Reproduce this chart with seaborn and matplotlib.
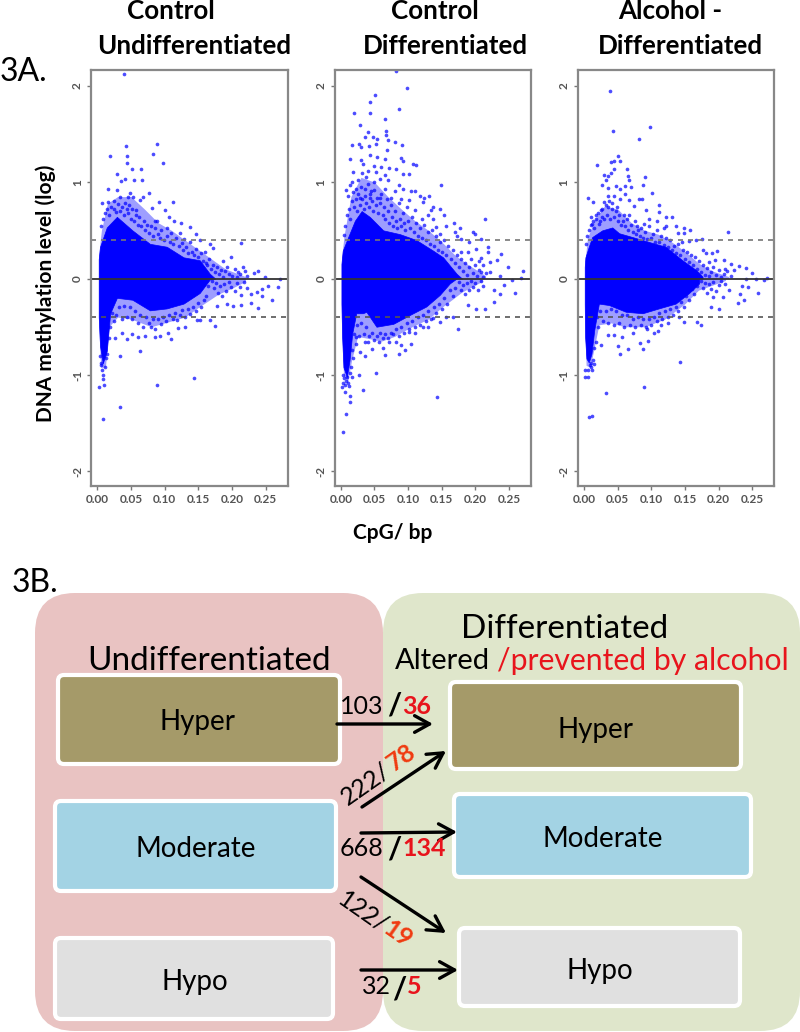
import pandas as pd
import seaborn as sns
import matplotlib
matplotlib.use('Agg')
import matplotlib.pyplot as plt
from matplotlib.patches import FancyBboxPatch

sns.set_theme(style='white')
plt.rcParams['font.family'] = ['Lato', 'DejaVu Sans']

# values: (CpG/bp, log methylation)
undiff_pts = [(.040,2.12),(.043,1.37),(.088,1.40),(.019,1.27),(.044,1.27),(.082,1.29),(.044,1.20),(.098,1.20),
    (.051,1.14),(.065,1.14),(.029,1.08),(.041,1.03),(.035,1.01),(.055,1.02),(.067,1.02),(.016,.93),(.029,.92),
    (.049,.89),(.046,.85),(.053,.85),(.068,.85),(.077,.89),(.063,.81),(.034,.85),(.007,.78),(.016,.79),(.091,.79),
    (.112,.79),(.081,.73),(.101,.71),(.024,.72),(.044,.72),(.058,.71),(.088,.60),(.107,.64),(.114,.60),(.124,.58),
    (.138,.53),(.086,.52),(.103,.52),(.123,.47),(.147,.46),(.128,.41),(.152,.40),(.167,.36),(.214,.37),(.172,.32),
    (.199,.22),(.187,.18),(.162,.16),(.219,.08),(.239,.08),(.249,.02),(.232,.06),(.209,.07),(.271,-.01),(.269,-.09),
    (.259,-.22),(.254,-.08),(.244,-.11),(.244,-.18),(.237,-.14),(.228,-.16),(.214,-.17),(.228,-.25),(.238,-.31),
    (.214,-.275),(.201,-.285),(.192,-.26),(.177,-.29),(.174,-.495),(.167,-.43),(.153,-.43),(.148,-.43),(.130,-.50),
    (.120,-.51),(.118,-.43),(.110,-.63),(.105,-.56),(.093,-.60),(.085,-.61),(.080,-.50),(.071,-.60),(.061,-.61),
    (.052,-.58),(.044,-.63),(.064,-.75),(.026,-.62),(.034,-.80),(.036,-.57),(.143,-1.03),(.089,-1.10),(.034,-1.33),
    (.008,-1.46),(.002,-1.12),(.010,-1.10),(.009,-1.04),(.009,-1.0),(.006,-.90)]
undiff_fringe = [(.006,.55),(.009,.62),(.012,.68),(.015,.72),(.018,.66),(.021,.74),(.024,.80),(.027,.69),(.031,.77),
    (.033,.70),(.036,.74),(.039,.66),(.041,.78),(.045,.68),(.047,.76),(.050,.62),(.052,.72),(.054,.60),(.057,.66),
    (.060,.56),(.062,.64),(.065,.55),(.069,.60),(.071,.50),(.074,.56),(.076,.47),(.079,.54),(.083,.44),(.085,.60),
    (.090,.46),(.093,.42),(.095,.50),(.099,.40),(.104,.44),(.108,.38),(.110,.47),(.113,.36),(.117,.42),(.121,.34),
    (.125,.37),(.127,.30),(.132,.33),(.135,.26),(.138,.38),(.141,.28),(.144,.24),(.147,.31),(.150,.22),(.154,.26),
    (.157,.18),(.160,.28),(.163,.14),(.166,.20),(.169,.10),(.172,.14),(.175,.07),(.178,.12),(.181,.05),(.184,.09),
    (.187,.02),(.190,.08),(.193,.12),(.196,.05),(.200,.03),(.204,.10),(.207,.02),(.212,.05),(.216,.12),(.222,.03),
    (.170,-.03),(.173,-.10),(.176,-.05),(.179,-.15),(.182,-.08),(.185,-.18),(.188,-.06),(.191,-.13),(.195,-.04),
    (.198,-.09),(.204,-.13),(.208,-.05),(.212,-.09),(.218,-.04),(.222,-.10),(.165,-.08),(.162,-.18),(.158,-.22),
    (.154,-.30),(.150,-.25),(.146,-.34),(.142,-.30),(.138,-.37),(.134,-.32),(.130,-.40),(.126,-.33),(.122,-.38),
    (.116,-.36),(.112,-.42),(.107,-.38),(.102,-.44),(.098,-.40),(.094,-.47),(.090,-.42),(.086,-.52),(.082,-.42),
    (.076,-.46),(.072,-.40),(.068,-.50),(.064,-.38),(.060,-.46),(.056,-.34),(.052,-.42),(.048,-.30),(.044,-.40),
    (.040,-.28),(.036,-.42),(.032,-.30),(.028,-.38),(.024,-.44),(.022,-.36),(.019,-.50),(.017,-.62),(.015,-.78),
    (.013,-.82),(.012,-.92),(.007,-.95),(.005,-.88),(.004,-.80)]
undiff_x = [.002,.004,.014,.029,.052,.078,.103,.128,.152,.167,.175]
undiff_top = [.20,.33,.53,.64,.50,.36,.33,.22,.19,.05,0]
undiff_low_x = [.002,.004,.008,.014,.019,.029,.052,.078,.103,.128,.152,.167,.175]
undiff_low = [-.40,-.70,-.88,-.75,-.36,-.20,-.22,-.33,-.31,-.26,-.15,-.01,0]
undiff_haze_x = [.002,.006,.015,.03,.05,.07,.09,.11,.13,.15,.17,.19,.22]
undiff_haze_top = [.25,.50,.78,.85,.85,.72,.58,.50,.40,.30,.20,.10,.02]
undiff_haze_low_x = [.002,.005,.012,.017,.03,.05,.08,.10,.13,.15,.18,.20,.22]
undiff_haze_low = [-.5,-.92,-.92,-.5,-.40,-.42,-.50,-.46,-.40,-.30,-.16,-.10,-.03]

ctrl_pts = [(.082,2.155),(.098,1.98),(.051,1.90),(.044,1.83),(.019,1.72),(.044,1.72),(.087,1.76),(.065,1.65),
    (.029,1.59),(.041,1.52),(.067,1.53),(.067,1.49),(.036,1.47),(.048,1.47),(.054,1.45),(.070,1.44),(.080,1.42),
    (.017,1.39),(.027,1.40),(.030,1.36),(.042,1.37),(.091,1.38),(.053,1.40),(.068,1.33),(.014,1.24),(.030,1.23),
    (.043,1.28),(.054,1.26),(.065,1.24),(.090,1.25),(.093,1.22),(.107,1.19),(.112,1.18),(.033,1.19),(.049,1.17),
    (.060,1.16),(.071,1.15),(.082,1.14),(.018,1.11),(.031,1.09),(.041,1.12),(.052,1.10),(.065,1.07),(.093,1.08),
    (.102,1.08),(.016,1.00),(.026,1.02),(.038,1.05),(.049,1.0),(.058,1.03),(.070,1.02),(.087,.97),(.149,.97),
    (.008,.92),(.013,.97),(.023,.93),(.036,.93),(.045,.91),(.065,.93),(.080,.91),(.092,.93),(.105,.91),(.110,.91),
    (.011,.86),(.028,.84),(.043,.84),(.058,.84),(.075,.84),(.090,.83),(.117,.86),(.123,.84),(.131,.86),(.122,.79),
    (.102,.81),(.137,.74),(.147,.72),(.134,.71),(.154,.66),(.110,.71),(.120,.62),(.130,.66),(.214,.62),(.137,.62),
    (.157,.55),(.168,.58),(.142,.53),(.177,.52),(.170,.48),(.196,.48),(.200,.46),(.172,.44),(.147,.46),(.179,.41),
    (.191,.38),(.209,.41),(.218,.33),(.201,.31),(.219,.28),(.179,.28),(.189,.28),(.209,.21),(.238,.25),(.232,.19),
    (.221,.17),(.248,.12),(.271,.08),(.211,.14),(.221,.07),(.206,.09),(.236,.03),(.268,.01),(.254,-.02),(.259,-.15),
    (.243,-.07),(.236,-.16),(.228,-.12),(.228,-.24),(.214,-.32),(.201,-.32),(.189,-.275),(.174,-.52),(.167,-.40),
    (.157,-.40),(.148,-.45),(.137,-.41),(.130,-.50),(.122,-.50),(.110,-.57),(.105,-.68),(.101,-.55),(.095,-.745),
    (.090,-.69),(.087,-.78),(.082,-.66),(.065,-.79),(.062,-.72),(.046,-.73),(.036,-.80),(.028,-.76),(.057,-.66),
    (.041,-.66),(.052,-.98),(.027,-1.0),(.033,-1.16),(.143,-1.23),(.013,-1.22),(.013,-1.28),(.008,-1.41),(.003,-1.59),
    (.002,-1.13),(.006,-1.18),(.012,-1.11),(.008,-1.06),(.016,-1.02),(.004,-1.08),(.072,-.66),(.023,-.61),(.036,-.66)]
ctrl_fringe = [(.005,.45),(.007,.55),(.009,.66),(.012,.72),(.014,.62),(.016,.80),(.018,.90),(.020,.74),(.022,.82),
    (.024,.70),(.026,.88),(.028,.76),(.030,.95),(.032,.82),(.034,.72),(.036,.86),(.038,.78),(.040,.98),(.042,.74),
    (.044,.88),(.046,.80),(.048,.70),(.050,.92),(.052,.76),(.054,.84),(.056,.68),(.058,.78),(.060,.88),(.062,.66),
    (.064,.74),(.066,.62),(.068,.82),(.070,.70),(.072,.58),(.074,.76),(.076,.64),(.078,.54),(.080,.70),(.082,.60),
    (.084,.52),(.086,.78),(.088,.62),(.090,.54),(.092,.68),(.094,.58),(.096,.50),(.098,.74),(.100,.60),(.103,.52),
    (.106,.64),(.109,.48),(.112,.58),(.115,.44),(.118,.52),(.121,.42),(.124,.56),(.127,.40),(.130,.48),(.133,.36),
    (.136,.50),(.139,.34),(.142,.44),(.145,.30),(.148,.38),(.151,.28),(.154,.40),(.157,.24),(.160,.34),(.163,.20),
    (.166,.30),(.169,.16),(.172,.24),(.175,.12),(.178,.20),(.181,.08),(.184,.16),(.187,.04),(.190,.12),(.193,.20),
    (.196,.06),(.199,.14),(.202,.03),(.205,.18),(.208,.07),(.212,.02),(.216,.06),(.175,-.04),(.178,-.12),(.181,-.07),
    (.184,-.16),(.187,-.05),(.190,-.12),(.193,-.03),(.196,-.09),(.200,-.05),(.204,-.12),(.208,-.03),(.212,-.08),
    (.170,-.10),(.166,-.18),(.162,-.12),(.158,-.26),(.154,-.20),(.150,-.32),(.146,-.26),(.142,-.36),(.138,-.30),
    (.134,-.42),(.130,-.34),(.126,-.44),(.122,-.38),(.118,-.48),(.114,-.40),(.110,-.50),(.106,-.44),(.102,-.52),
    (.098,-.46),(.094,-.56),(.090,-.50),(.086,-.60),(.082,-.52),(.078,-.58),(.074,-.56),(.070,-.62),(.066,-.58),
    (.062,-.62),(.058,-.56),(.054,-.60),(.050,-.64),(.046,-.56),(.042,-.60),(.038,-.50),(.034,-.58),(.030,-.46),
    (.027,-.60),(.024,-.48),(.022,-.68),(.020,-.58),(.018,-.82),(.016,-.74),(.015,-.92),(.013,-.98),(.011,-1.08),
    (.010,-1.02),(.007,-1.10),(.005,-1.03),(.003,-1.0)]
ctrl_x = [.001,.003,.011,.021,.031,.043,.063,.088,.112,.137,.152,.172,.180]
ctrl_top = [.15,.29,.43,.60,.70,.64,.50,.46,.40,.29,.22,.05,0]
ctrl_low_x = [.001,.002,.004,.009,.013,.017,.023,.033,.038,.053,.078,.102,.127,.147,.162,.172]
ctrl_low = [-.26,-.60,-.92,-1.02,-.85,-.57,-.36,-.36,-.345,-.50,-.47,-.38,-.29,-.17,-.05,0]
ctrl_haze_x = [.001,.005,.015,.03,.05,.07,.09,.11,.13,.15,.17,.19,.215]
ctrl_haze_top = [.2,.45,.85,1.05,1.0,.85,.72,.60,.50,.38,.24,.14,.03]
ctrl_haze_low_x = [.001,.004,.010,.016,.025,.04,.06,.08,.10,.13,.15,.18,.21]
ctrl_haze_low = [-.4,-1.0,-1.08,-.85,-.60,-.62,-.65,-.60,-.52,-.42,-.30,-.14,-.03]

alc_pts = [(.039,1.94),(.098,1.57),(.043,1.53),(.082,1.45),(.051,1.27),(.040,1.21),(.045,1.22),(.053,1.22),
    (.019,1.18),(.044,1.14),(.064,1.14),(.040,1.09),(.030,1.07),(.035,1.06),(.066,1.06),(.091,1.05),(.032,1.02),
    (.067,1.02),(.027,.97),(.036,.94),(.047,.96),(.061,.96),(.069,.95),(.087,.97),(.101,.89),(.006,.84),(.036,.86),
    (.044,.86),(.061,.88),(.053,.93),(.013,.79),(.030,.79),(.042,.78),(.054,.83),(.067,.81),(.081,.83),(.086,.83),
    (.074,.75),(.025,.71),(.035,.74),(.049,.74),(.092,.71),(.111,.76),(.111,.69),(.010,.64),(.017,.66),(.027,.64),
    (.059,.66),(.067,.66),(.096,.62),(.121,.64),(.131,.64),(.109,.60),(.012,.57),(.022,.57),(.079,.55),(.089,.57),
    (.121,.55),(.136,.54),(.148,.52),(.158,.50),(.214,.48),(.139,.47),(.119,.52),(.148,.47),(.175,.41),(.156,.39),
    (.166,.40),(.146,.38),(.198,.29),(.190,.27),(.176,.30),(.181,.26),(.208,.19),(.218,.15),(.195,.19),(.230,.13),
    (.240,.11),(.249,.06),(.186,.17),(.223,.09),(.210,.10),(.272,.01),(.267,-.02),(.255,-.01),(.240,0),(.243,-.09),
    (.235,-.08),(.259,-.15),(.238,-.22),(.228,-.25),(.232,-.16),(.215,-.12),(.201,-.32),(.189,-.30),(.206,-.19),
    (.191,-.19),(.174,-.48),(.168,-.45),(.149,-.45),(.141,-.40),(.124,-.46),(.114,-.48),(.104,-.57),(.110,-.54),
    (.095,-.65),(.083,-.67),(.087,-.73),(.094,-.52),(.072,-.57),(.065,-.73),(.050,-.70),(.053,-.78),(.056,-.61),
    (.025,-.69),(.045,-.59),(.035,-.59),(.143,-.87),(.089,-1.13),(.033,-1.19),(.008,-1.44),(.012,-1.43),(.002,-1.02),
    (.006,-1.02),(.012,-.95),(.010,-.92),(.002,-.95),(.015,-.885)]
alc_fringe = [(.003,.36),(.005,.44),(.008,.50),(.010,.56),(.013,.60),(.015,.52),(.018,.62),(.021,.68),(.023,.60),
    (.026,.72),(.029,.62),(.032,.76),(.034,.66),(.037,.80),(.039,.62),(.042,.72),(.044,.64),(.047,.70),(.050,.60),
    (.052,.66),(.055,.56),(.058,.60),(.061,.54),(.064,.62),(.066,.50),(.069,.56),(.072,.48),(.075,.60),(.077,.46),
    (.080,.50),(.083,.44),(.085,.52),(.088,.42),(.091,.48),(.094,.41),(.097,.54),(.100,.42),(.103,.46),(.106,.38),
    (.109,.50),(.112,.38),(.115,.44),(.118,.35),(.122,.42),(.125,.33),(.128,.40),(.131,.30),(.134,.34),(.137,.27),
    (.140,.36),(.143,.24),(.147,.30),(.150,.20),(.153,.28),(.156,.17),(.159,.24),(.162,.14),(.165,.22),(.168,.10),
    (.171,.18),(.174,.07),(.177,.14),(.180,.04),(.183,.11),(.186,.03),(.189,.07),(.192,.12),(.196,.04),(.200,.09),
    (.204,.02),(.208,.05),(.213,.08),(.218,.03),(.173,-.03),(.176,-.10),(.179,-.05),(.182,-.15),(.185,-.06),
    (.188,-.11),(.192,-.04),(.196,-.13),(.200,-.07),(.204,-.03),(.210,-.06),(.168,-.08),(.164,-.16),(.160,-.11),
    (.156,-.22),(.152,-.18),(.148,-.30),(.144,-.24),(.140,-.34),(.136,-.30),(.132,-.38),(.128,-.32),(.124,-.40),
    (.120,-.34),(.116,-.42),(.112,-.36),(.108,-.44),(.104,-.40),(.100,-.48),(.096,-.42),(.092,-.50),(.088,-.42),
    (.084,-.48),(.080,-.40),(.076,-.50),(.072,-.42),(.068,-.48),(.064,-.38),(.060,-.50),(.056,-.38),(.052,-.46),
    (.048,-.34),(.044,-.48),(.040,-.32),(.036,-.46),(.032,-.34),(.028,-.44),(.024,-.34),(.021,-.50),(.019,-.40),
    (.017,-.66),(.015,-.72),(.013,-.84),(.011,-.88),(.009,-.90),(.006,-.95)]
alc_x = [.001,.002,.007,.012,.027,.042,.052,.072,.096,.121,.146,.166,.176]
alc_top = [.12,.22,.33,.43,.50,.53,.47,.43,.38,.33,.19,.09,.02]
alc_low_x = [.001,.0015,.0035,.007,.011,.015,.022,.037,.062,.087,.111,.136,.156,.171]
alc_low = [-.26,-.60,-.83,-.87,-.78,-.54,-.26,-.275,-.345,-.36,-.31,-.26,-.15,-.05]
alc_haze_x = [.001,.005,.015,.03,.05,.07,.09,.11,.13,.15,.17,.19,.215]
alc_haze_top = [.15,.42,.60,.75,.72,.58,.50,.46,.38,.28,.16,.08,.02]
alc_haze_low_x = [.001,.003,.009,.015,.022,.04,.06,.09,.12,.15,.17,.19,.21]
alc_haze_low = [-.35,-.90,-.92,-.72,-.48,-.46,-.50,-.50,-.42,-.26,-.12,-.07,-.02]

panels = [
    (91.3, undiff_pts + undiff_fringe, undiff_x, undiff_top, undiff_low_x, undiff_low,
     undiff_haze_x, undiff_haze_top, undiff_haze_low_x, undiff_haze_low),
    (334.7, ctrl_pts + ctrl_fringe, ctrl_x, ctrl_top, ctrl_low_x, ctrl_low,
     ctrl_haze_x, ctrl_haze_top, ctrl_haze_low_x, ctrl_haze_low),
    (578.0, alc_pts + alc_fringe, alc_x, alc_top, alc_low_x, alc_low,
     alc_haze_x, alc_haze_top, alc_haze_low_x, alc_haze_low),
]
x_ticks = [0, .05, .10, .15, .20, .25]
y_ticks = [-2, -1, 0, 1, 2]
cutoff = 0.4

fig = plt.figure(figsize=(8, 10.32), dpi=100, facecolor='white')

# whole figure canvas in pixels for the text and the 3B diagram
canvas = fig.add_axes([0, 0, 1, 1])
canvas.set_xlim(0, 800)
canvas.set_ylim(1032, 0)
canvas.axis('off')


def box(x0, y0, x1, y1, color, edge='white', r=6, lw=3):
    canvas.add_patch(FancyBboxPatch((x0, y0), x1 - x0, y1 - y0, boxstyle='round,pad=0,rounding_size=%s' % r,
                                    fc=color, ec=edge, lw=lw))


def label(x, y, s, size, color='black', weight='normal', ha='center', rotation=0):
    canvas.text(x, y, s, fontsize=size, color=color, fontweight=weight, ha=ha, va='center',
                rotation=rotation, rotation_mode='anchor')


def arrow(x0, y0, x1, y1):
    canvas.annotate('', xy=(x1, y1), xytext=(x0, y0),
                    arrowprops=dict(arrowstyle='->,head_length=0.9,head_width=0.5', color='black', lw=2.4,
                                    shrinkA=0, shrinkB=0))


for x0, pts, tx, top, lx, low, hx, htop, hlx, hlow in panels:
    ax = fig.add_axes([x0 / 800, 1 - 486 / 1032, 196.4 / 800, 416 / 1032])
    ax.patch.set_alpha(0)
    df = pd.DataFrame(pts, columns=['cpg', 'meth'])
    ax.fill_between(hx, 0, htop, color='#0000ff', alpha=0.38, lw=0)
    ax.fill_between(hlx, 0, hlow, color='#0000ff', alpha=0.38, lw=0)
    ax.fill_between(tx, 0, top, color='#0000ff', lw=0.5)
    ax.fill_between(lx, 0, low, color='#0000ff', lw=0.5)
    sns.scatterplot(data=df, x='cpg', y='meth', color='#0000ff', alpha=0.7, s=7, linewidth=0, ax=ax)
    ax.axhline(0, color='#333333', lw=1.3)
    ax.axhline(cutoff, color='#777777', lw=1.2, ls=(0, (3, 3)))
    ax.axhline(-cutoff, color='#555555', lw=1.2, ls=(0, (3, 3)))
    ax.set_xlim(-.009, .2827)
    ax.set_ylim(-2.152, 2.163)
    ax.set_xticks(x_ticks, ['%.2f' % t for t in x_ticks])
    ax.set_yticks(y_ticks, [str(t) for t in y_ticks])
    ax.set_xlabel('')
    ax.set_ylabel('')
    ax.tick_params(axis='both', length=3, width=1, color='#777777', labelcolor='#555555', labelsize=8.5, bottom=True, left=True, pad=3)
    ax.tick_params(axis='y', labelrotation=90)
    for t in ax.get_xticklabels() + ax.get_yticklabels():
        t.set_fontweight('bold')
    for t in ax.get_yticklabels():
        t.set_va('center')
    for sp in ax.spines.values():
        sp.set_color('#888888')
        sp.set_linewidth(1.6)

# panel titles
label(171, 11, 'Control', 18.7, weight='bold')
label(194, 46, 'Undifferentiated', 18.7, weight='bold')
label(435, 11, 'Control', 18.7, weight='bold')
label(445, 46, 'Differentiated', 18.7, weight='bold')
label(670, 11, 'Alcohol -', 18.7, weight='bold')
label(680, 46, 'Differentiated', 18.7, weight='bold')
label(0, 72, '3A.', 23, ha='left')
label(12, 583, '3B.', 23, ha='left')
label(46, 293, 'DNA methylation level (log)', 15, weight='bold', rotation=90)
label(393, 533, 'CpG/ bp', 15, weight='bold')

# 3B background panels
box(35, 593, 383, 1031, '#e9c3c2', edge='none', r=40, lw=0)
box(383, 593, 800, 1031, '#dfe6cb', edge='none', r=40, lw=0)

box(58, 675, 340, 764, '#a59a69')
box(55, 801, 336, 891, '#a3d3e4')
box(55, 938, 333, 1019, '#e0e0e0')
box(450, 682, 741, 769, '#a59a69')
box(454, 794, 751, 877, '#a3d3e4')
box(459, 928, 740, 1006, '#e0e0e0')

label(209, 661, 'Undifferentiated', 24)
label(565, 629, 'Differentiated', 24)
label(395, 661, 'Altered', 21, ha='left')
label(497, 661, '/prevented by alcohol', 21.7, color='#e8141c', ha='left')

for x, y, s in [(198, 722, 'Hyper'), (196, 849, 'Moderate'), (195, 982, 'Hypo'),
                (596, 730, 'Hyper'), (603, 839, 'Moderate'), (600, 971, 'Hypo')]:
    label(x, y, s, 20)

arrow(337, 724, 433, 724)
arrow(362, 807, 446, 751)
arrow(361, 833, 457, 832)
arrow(361, 877, 446, 933)
arrow(361, 970, 458, 970)

label(340, 706, '103', 18, ha='left')
label(394, 706, '/', 22, weight='bold')
label(402, 706, '36', 18, color='#e8141c', weight='bold', ha='left')
label(366, 784, '222/', 18, rotation=35)
label(401, 758, '78', 18, color='#f03a10', weight='bold', rotation=35)
label(340, 848, '668', 18, ha='left')
label(394, 850, '/', 22, weight='bold')
label(402, 848, '134', 18, color='#e8141c', weight='bold', ha='left')
label(363, 912, '122/', 18, rotation=-35)
label(398, 934, '19', 18, color='#f03a10', weight='bold', rotation=-35)
label(362, 987, '32', 18, ha='left')
label(399, 989, '/', 22, weight='bold')
label(414, 987, '5', 18, color='#e8141c', weight='bold')

fig.savefig('out.png', dpi=100)
